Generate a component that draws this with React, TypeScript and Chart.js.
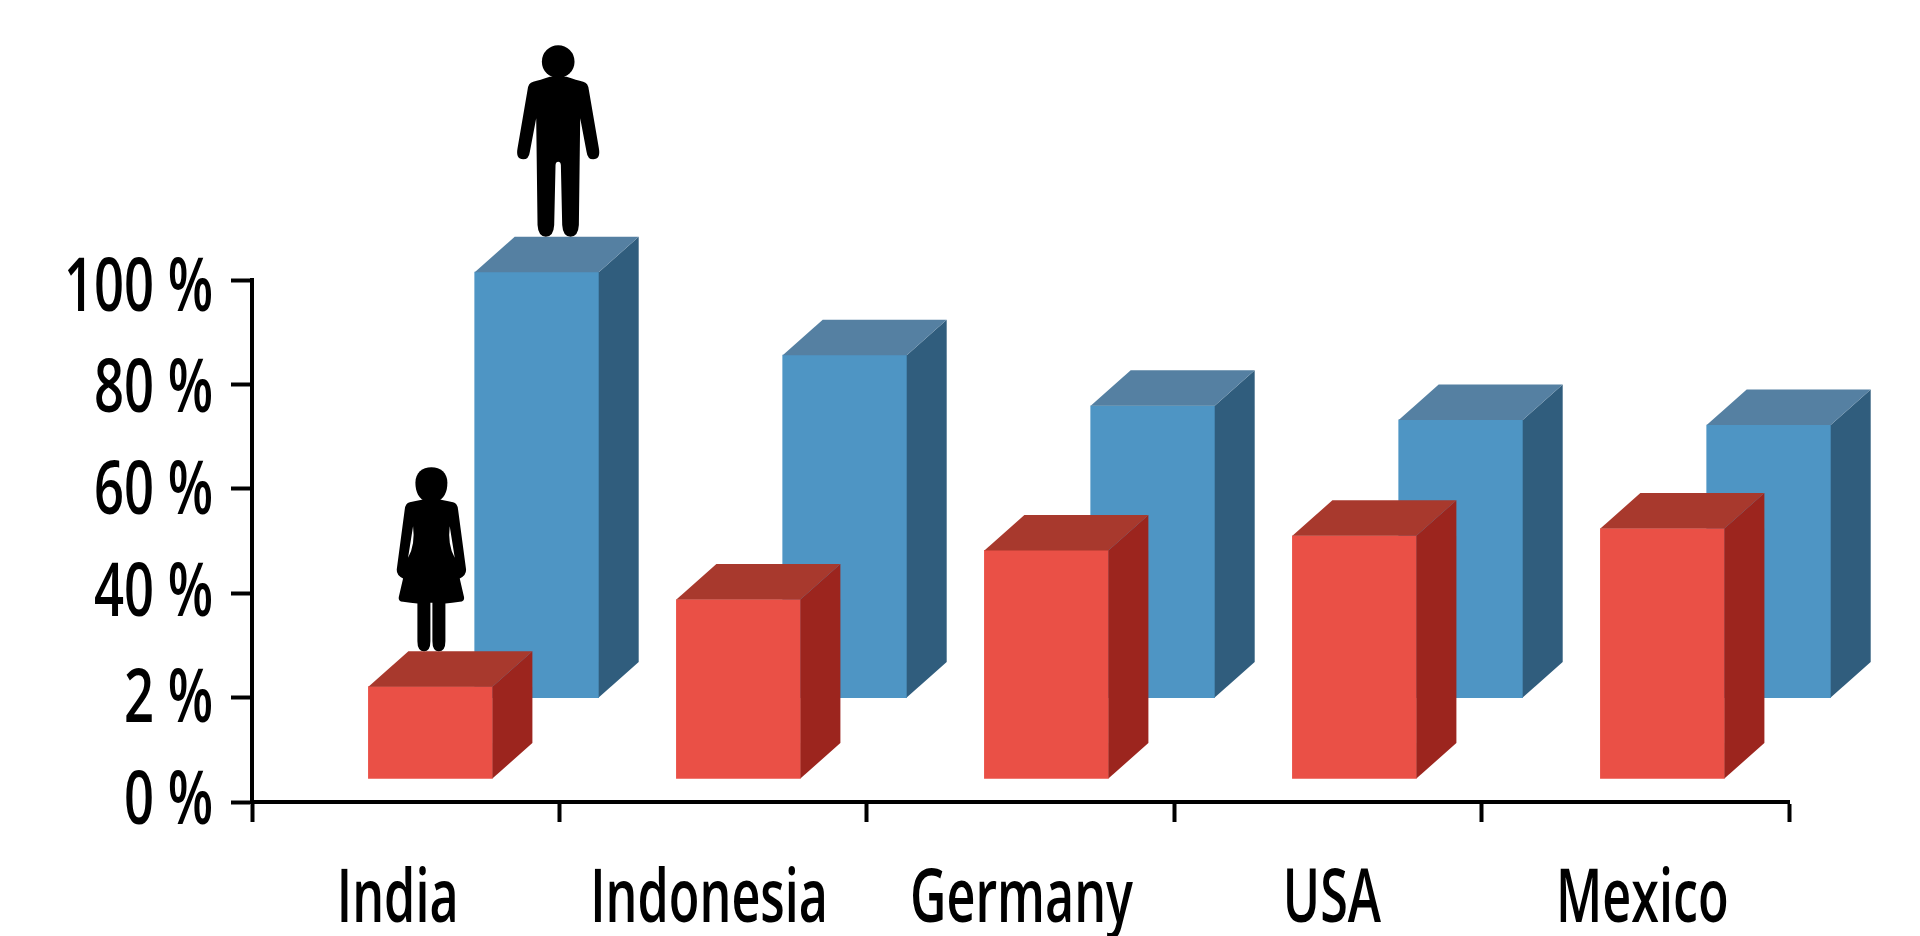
import React, { useEffect, useRef } from "react";
import { Chart, registerables } from "chart.js";

Chart.register(...registerables);

const categories = ["India", "Indonesia", "Germany", "USA", "Mexico"];
const maleTops = [101.5, 85.6, 75.9, 73.2, 72.2];
const maleBases = [20, 20, 20, 20, 20];
const femaleTops = [22.1, 38.8, 48.2, 51, 52.4];
const femaleBases = [4.5, 4.5, 4.5, 4.5, 4.5];
const yTickLabels = ["0 %", "2 %", "40 %", "60 %", "80 %", "100 %"];

const FONT = '"Open Sans", "Noto Sans", sans-serif';
const CONDENSE_X = 0.67;
const CONDENSE_Y = 0.7;
const DEPTH_X = 40;
const DEPTH_Y = 35.5;
const STEP_EXTRA = 0.6;
const X_LABEL_SHIFT = [-8, -4, 1, 4, 7];
const Y_LABEL_SHIFT = [1, 3.5, 1.5, 4, 6.5, 10];

const MAN_BODY =
  "M -25 -480 Q -55 -470 -75 -465 Q -90 -462 -92 -440 L -122 -265 Q -128 -232 -105 -232 Q -88 -232 -85 -255 L -66 -355 L -62 -35 Q -60 0 -37 0 Q -14 0 -12 -35 L -8 -215 Q -7 -225 0 -225 Q 7 -225 8 -215 L 12 -35 Q 14 0 37 0 Q 60 0 62 -35 L 66 -355 L 85 -255 Q 88 -232 105 -232 Q 128 -232 122 -265 L 92 -440 Q 90 -462 75 -465 Q 55 -470 25 -480 Z";
const MAN_HEAD = "M 49 -525 A 49 49 0 1 1 -49 -525 A 49 49 0 1 1 49 -525 Z";
const WOMAN_BODY =
  "M -25 -455 Q -50 -450 -65 -447 Q -78 -445 -80 -425 L -104 -245 Q -105 -228 -85 -218 L -98 -162 Q -100 -150 -85 -148 Q -62 -145 -42 -143 L -42 -30 Q -42 0 -22 0 Q -3 0 -3 -30 L -3 -145 L 3 -145 L 3 -30 Q 3 0 22 0 Q 42 0 42 -30 L 42 -143 Q 62 -145 85 -148 Q 100 -150 98 -162 L 85 -218 Q 105 -228 104 -245 L 80 -425 Q 78 -445 65 -447 Q 50 -450 25 -455 Z M -55 -375 L -70 -280 Q -48 -320 -55 -375 Z M 55 -375 L 70 -280 Q 48 -320 55 -375 Z";
const WOMAN_HEAD = "M 48 -505 C 48 -535 28 -552 0 -552 C -28 -552 -48 -535 -48 -505 C -48 -478 -38 -455 -15 -448 L 15 -448 C 38 -455 48 -478 48 -505 Z";

const pairs = (tops: number[], bases: number[]) => tops.map((t, i) => [bases[i], t]);

const adjustLabels = (chart: any, scale: any, ratio: number, apply: (it: any, i: number) => void) => {
  const ctx = chart.ctx;
  scale.getLabelItems().forEach((it: any, i: number) => {
    if (it.adjusted) return;
    ctx.save();
    ctx.font = it.font.string;
    it.options.maxWidth = ctx.measureText(String(it.label)).width * ratio;
    ctx.restore();
    apply(it, i);
    it.adjusted = true;
  });
};

const cubePlugin = {
  id: "cube",
  beforeDraw(chart: any) {
    adjustLabels(chart, chart.scales.x, CONDENSE_X, (it, i) => {
      it.options.translation[0] += X_LABEL_SHIFT[i];
    });
    adjustLabels(chart, chart.scales.y, CONDENSE_Y, (it, i) => {
      it.options.translation[1] += Y_LABEL_SHIFT[i];
    });
  },
  afterDatasetsUpdate(chart: any) {
    chart.data.datasets.forEach((ds: any, i: number) => {
      chart.getDatasetMeta(i).data.forEach((el: any, k: number) => {
        el.x += ds.xShift + k * STEP_EXTRA;
      });
    });
  },
  afterDatasetDraw(chart: any, args: any) {
    const ctx = chart.ctx;
    const ds = chart.data.datasets[args.index];
    args.meta.data.forEach((el: any) => {
      const p = el.getProps(["x", "y", "base", "width"], true);
      const l = p.x - p.width / 2;
      const r = p.x + p.width / 2;
      ctx.save();
      ctx.fillStyle = ds.sideColor;
      ctx.beginPath();
      ctx.moveTo(r, p.y);
      ctx.lineTo(r + DEPTH_X, p.y - DEPTH_Y);
      ctx.lineTo(r + DEPTH_X, p.base - DEPTH_Y);
      ctx.lineTo(r, p.base);
      ctx.closePath();
      ctx.fill();
      ctx.fillStyle = ds.topColor;
      ctx.beginPath();
      ctx.moveTo(l, p.y);
      ctx.lineTo(l + DEPTH_X, p.y - DEPTH_Y);
      ctx.lineTo(r + DEPTH_X, p.y - DEPTH_Y);
      ctx.lineTo(r, p.y);
      ctx.closePath();
      ctx.fill();
      ctx.restore();
    });
    const first = args.meta.data[0];
    ctx.save();
    ctx.translate(first.x + ds.iconShift, first.y - DEPTH_Y);
    ctx.scale(1 / 3, 1 / 3);
    ctx.fillStyle = "#000";
    ctx.fill(new Path2D(ds.iconBody), "evenodd");
    ctx.fill(new Path2D(ds.iconHead));
    ctx.restore();
  },
};

export default function App() {
  const ref = useRef<HTMLCanvasElement>(null);
  useEffect(() => {
    const chart = new Chart(ref.current as HTMLCanvasElement, {
      type: "bar",
      plugins: [cubePlugin],
      data: {
        labels: categories,
        datasets: [
          {
            label: "Female",
            data: pairs(femaleTops, femaleBases),
            backgroundColor: "#EA5046",
            sideColor: "#9C251E",
            topColor: "#A8392D",
            xShift: 24.7,
            iconShift: 1,
            iconBody: WOMAN_BODY,
            iconHead: WOMAN_HEAD,
            order: 1,
          },
          {
            label: "Male",
            data: pairs(maleTops, maleBases),
            backgroundColor: "#4E95C4",
            sideColor: "#305D7D",
            topColor: "#5580A2",
            xShift: 131,
            iconShift: 21.5,
            iconBody: MAN_BODY,
            iconHead: MAN_HEAD,
            order: 2,
          },
        ] as any,
      },
      options: {
        responsive: false,
        animation: false,
        layout: { padding: { top: 280, right: 131, left: 0, bottom: 0 } },
        plugins: { legend: { display: false }, tooltip: { enabled: false } },
        datasets: { bar: { grouped: false, barThickness: 124, clip: false, borderWidth: 0 } },
        scales: {
          x: {
            offset: true,
            afterFit: (s: any) => {
              s.height = 134;
            },
            border: { display: true, color: "#000", width: 4 },
            grid: { offset: true, drawOnChartArea: false, tickLength: 20, tickWidth: 4, tickColor: "#000" },
            ticks: {
              autoSkip: false,
              maxRotation: 0,
              padding: 34,
              color: "#000",
              font: { family: FONT, size: 75, weight: "600" },
            },
          },
          y: {
            min: 0,
            max: 100,
            afterFit: (s: any) => {
              s.width = 252;
            },
            border: { display: true, color: "#000", width: 4 },
            grid: { drawOnChartArea: false, tickLength: 21, tickWidth: 4, tickColor: "#000" },
            ticks: {
              stepSize: 20,
              padding: 18,
              color: "#000",
              font: { family: FONT, size: 75, weight: "600" },
              callback: (_v: any, i: number) => yTickLabels[i],
            },
          },
        },
      } as any,
    });
    return () => chart.destroy();
  }, []);
  return (
    <div style={{ position: "fixed", left: 0, top: 0, width: 1920, height: 936, background: "#fff" }}>
      <canvas ref={ref} width={1920} height={936} style={{ display: "block" }} />
    </div>
  );
}
